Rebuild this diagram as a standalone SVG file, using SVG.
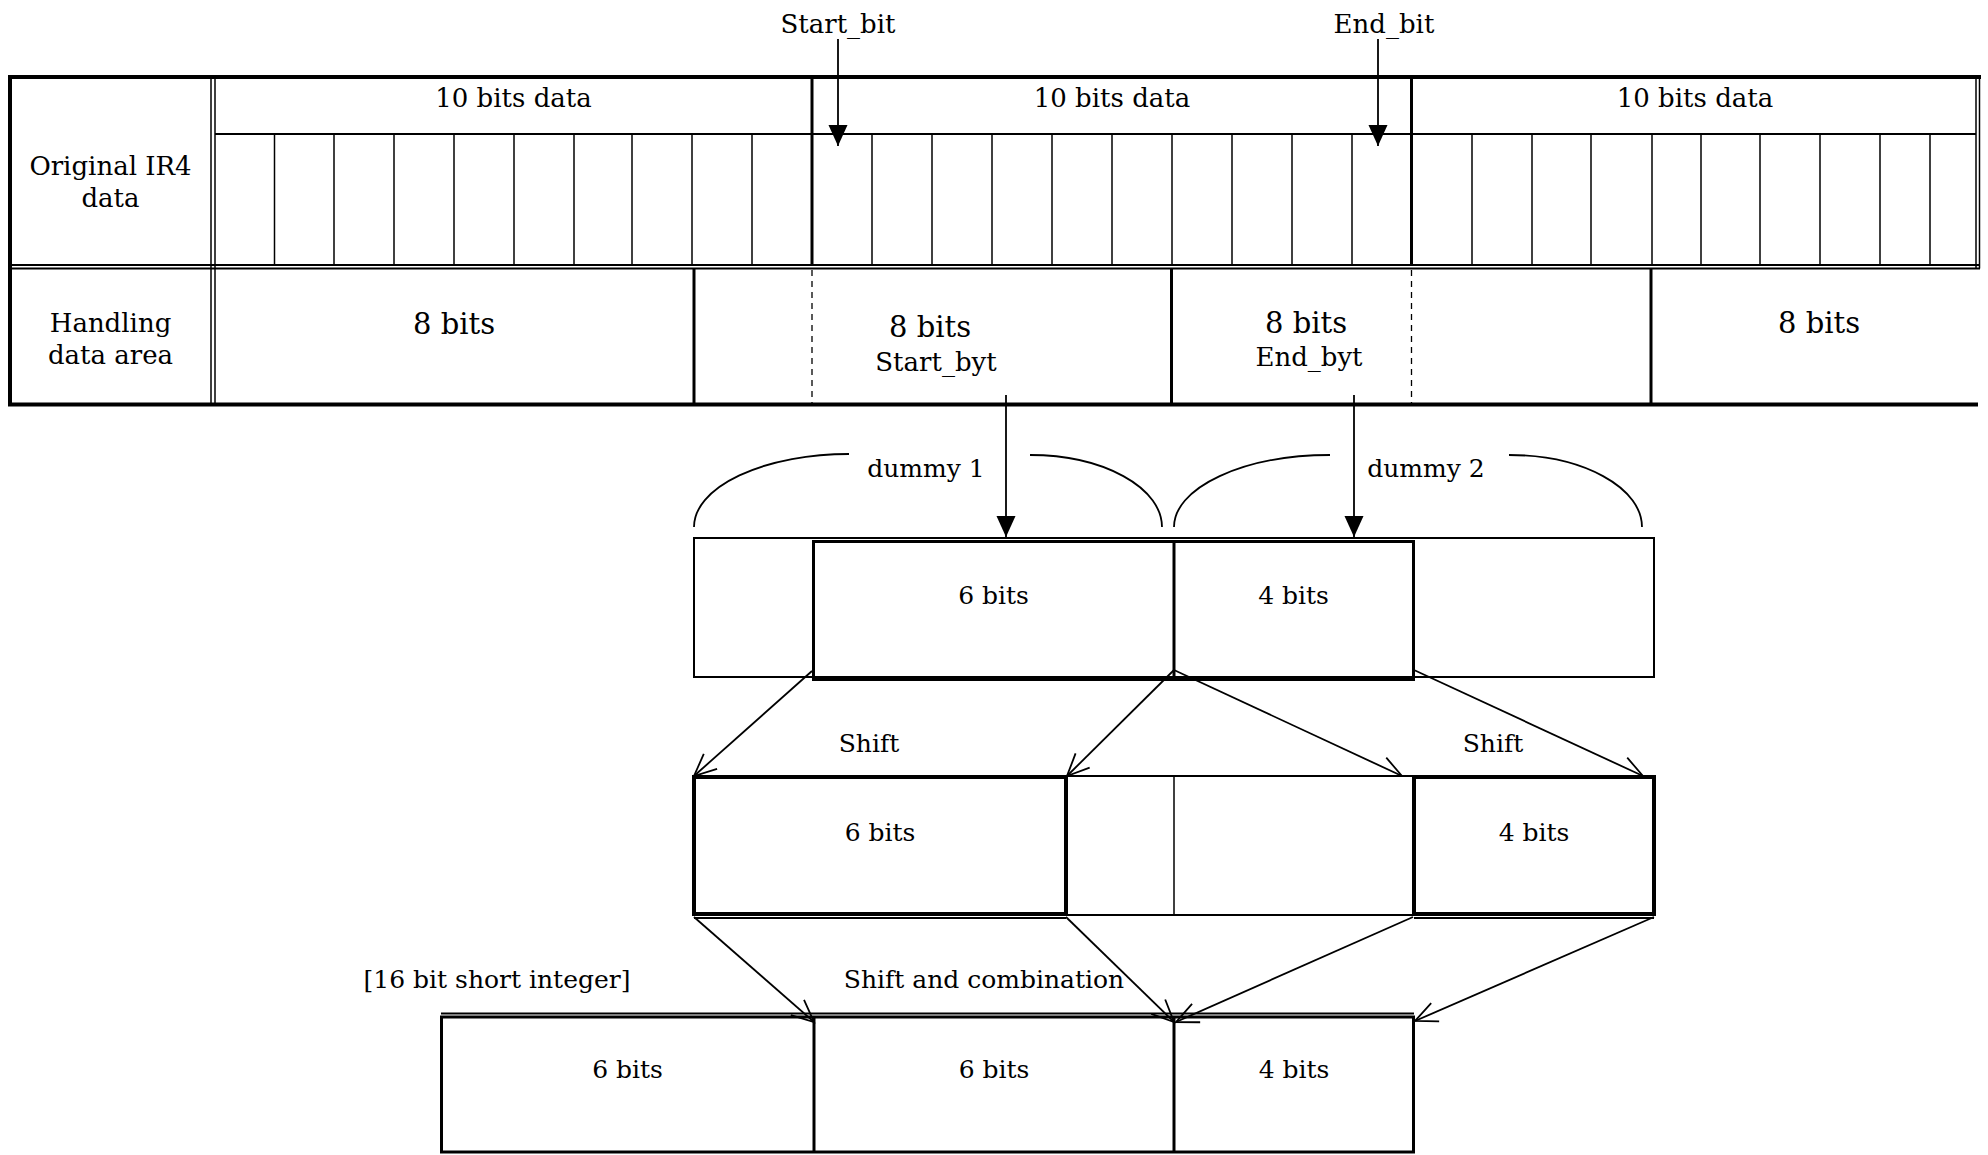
<svg xmlns="http://www.w3.org/2000/svg" width="1988" height="1155" viewBox="0 0 1988 1155">
<style>
  .bg{fill:#ffffff}
  .k4{stroke:#000;stroke-width:4;fill:none}
  .k3{stroke:#000;stroke-width:3;fill:none}
  .k2{stroke:#000;stroke-width:2;fill:none}
  .k15{stroke:#000;stroke-width:1.5;fill:none}
  .dash{stroke:#000;stroke-width:1.3;fill:none;stroke-dasharray:6 5}
  .arc{stroke:#000;stroke-width:1.8;fill:none}
  .arrF{stroke:#000;stroke-width:1.8;fill:none;marker-end:url(#solid)}
  .arrO{stroke:#000;stroke-width:1.8;fill:none;marker-end:url(#open)}
  text{font-family:"DejaVu Serif","Liberation Serif",serif;fill:#000;text-anchor:middle}
  .f26{font-size:26px}
  .f25{font-size:25px}
  .f29{font-size:29px}
</style>
<defs>
  <marker id="solid" markerUnits="userSpaceOnUse" markerWidth="1" markerHeight="1" refX="0" refY="0" orient="auto" overflow="visible">
    <path d="M0,0 L-21,-9.5 L-21,9.5 Z" fill="#000"/>
  </marker>
  <marker id="open" markerUnits="userSpaceOnUse" markerWidth="1" markerHeight="1" refX="0" refY="0" orient="auto" overflow="visible">
    <path d="M-22,-10 L0,0 L-22,10" fill="none" stroke="#000" stroke-width="1.8"/>
  </marker>
</defs>
<rect class="bg" x="0" y="0" width="1988" height="1155"/>

<g id="label-start-bit"><text class="f26" x="838" y="33">Start_bit</text></g>
<g id="label-end-bit"><text class="f26" x="1384" y="33">End_bit</text></g>

<g id="table-ir4">
  <line class="k4" x1="8" y1="77" x2="1981" y2="77"/>
  <line class="k4" x1="10" y1="75" x2="10" y2="406"/>
  <line class="k15" x1="211" y1="77" x2="211" y2="404"/>
  <line class="k15" x1="215" y1="77" x2="215" y2="404"/>
  <line class="k2" x1="10" y1="265" x2="1980" y2="265"/>
  <line class="k2" x1="10" y1="268.5" x2="1980" y2="268.5"/>
  <line class="k4" x1="8" y1="404.5" x2="1978" y2="404.5"/>
  <line class="k15" x1="1976" y1="77" x2="1976" y2="268.5"/>
  <line class="k15" x1="1979.5" y1="77" x2="1979.5" y2="268.5"/>
  <line class="k2" x1="215" y1="134" x2="1976" y2="134"/>
  <line class="k3" x1="812" y1="77" x2="812" y2="266"/>
  <line class="k3" x1="1411.5" y1="77" x2="1411.5" y2="266"/>
  <g class="k15">
    <line x1="274.5" y1="134" x2="274.5" y2="265"/>
    <line x1="334" y1="134" x2="334" y2="265"/>
    <line x1="394" y1="134" x2="394" y2="265"/>
    <line x1="454" y1="134" x2="454" y2="265"/>
    <line x1="514" y1="134" x2="514" y2="265"/>
    <line x1="574" y1="134" x2="574" y2="265"/>
    <line x1="632" y1="134" x2="632" y2="265"/>
    <line x1="692" y1="134" x2="692" y2="265"/>
    <line x1="752" y1="134" x2="752" y2="265"/>
    <line x1="872" y1="134" x2="872" y2="265"/>
    <line x1="932" y1="134" x2="932" y2="265"/>
    <line x1="992" y1="134" x2="992" y2="265"/>
    <line x1="1052" y1="134" x2="1052" y2="265"/>
    <line x1="1112" y1="134" x2="1112" y2="265"/>
    <line x1="1172" y1="134" x2="1172" y2="265"/>
    <line x1="1232" y1="134" x2="1232" y2="265"/>
    <line x1="1292" y1="134" x2="1292" y2="265"/>
    <line x1="1352" y1="134" x2="1352" y2="265"/>
    <line x1="1472" y1="134" x2="1472" y2="265"/>
    <line x1="1532" y1="134" x2="1532" y2="265"/>
    <line x1="1591" y1="134" x2="1591" y2="265"/>
    <line x1="1652" y1="134" x2="1652" y2="265"/>
    <line x1="1701" y1="134" x2="1701" y2="265"/>
    <line x1="1760" y1="134" x2="1760" y2="265"/>
    <line x1="1820" y1="134" x2="1820" y2="265"/>
    <line x1="1880" y1="134" x2="1880" y2="265"/>
    <line x1="1930" y1="134" x2="1930" y2="265"/>
  </g>
  <line class="k3" x1="694" y1="268" x2="694" y2="404"/>
  <line class="k3" x1="1171.5" y1="268" x2="1171.5" y2="404"/>
  <line class="k3" x1="1651" y1="268" x2="1651" y2="404"/>
  <line class="dash" x1="812" y1="270" x2="812" y2="403"/>
  <line class="dash" x1="1411.5" y1="270" x2="1411.5" y2="403"/>
  <text class="f26" x="110.5" y="175">Original IR4</text>
  <text class="f26" x="110.5" y="207">data</text>
  <text class="f26" x="110.5" y="331.5">Handling</text>
  <text class="f26" x="110.5" y="363.5">data area</text>
  <text class="f26" x="513.5" y="106.5">10 bits data</text>
  <text class="f26" x="1112" y="106.5">10 bits data</text>
  <text class="f26" x="1695" y="106.5">10 bits data</text>
  <text class="f29" x="454" y="334">8 bits</text>
  <text class="f29" x="930" y="337">8 bits</text>
  <text class="f26" x="936" y="371">Start_byt</text>
  <text class="f29" x="1306" y="333">8 bits</text>
  <text class="f26" x="1309" y="366">End_byt</text>
  <text class="f29" x="1819" y="333">8 bits</text>
</g>

<g id="dummy-braces">
  <path class="arc" d="M694,527 A155,73 0 0 1 849,454"/>
  <path class="arc" d="M1030,455 A132,72 0 0 1 1162,527"/>
  <path class="arc" d="M1174,527 A156,72 0 0 1 1330,455"/>
  <path class="arc" d="M1509,455 A133,72 0 0 1 1642,527"/>
  <text class="f25" x="926" y="477">dummy 1</text>
  <text class="f25" x="1426" y="477">dummy 2</text>
</g>

<g id="row-extract">
  <rect class="k2" x="694" y="538" width="960" height="139"/>
  <rect class="k3" x="813.5" y="541.5" width="600" height="138"/>
  <line class="k3" x1="1174" y1="541.5" x2="1174" y2="679.5"/>
  <text class="f25" x="993.5" y="604">6 bits</text>
  <text class="f25" x="1293.5" y="604">4 bits</text>
</g>

<g id="row-shift">
  <rect class="k2" x="1066" y="776" width="348" height="139"/>
  <line class="k15" x1="1174" y1="776" x2="1174" y2="915"/>
  <rect class="k4" x="694" y="777" width="372" height="137"/>
  <rect class="k4" x="1414" y="777" width="240" height="137"/>
  <line class="k2" x1="694" y1="918" x2="1066" y2="918"/>
  <line class="k2" x1="1414" y1="918" x2="1654" y2="918"/>
  <text class="f25" x="880" y="841">6 bits</text>
  <text class="f25" x="1534" y="841">4 bits</text>
</g>

<g id="row-result">
  <line class="k2" x1="441" y1="1013.5" x2="1414" y2="1013.5"/>
  <rect class="k3" x="441.5" y="1017" width="972" height="135"/>
  <line class="k3" x1="814" y1="1017" x2="814" y2="1152"/>
  <line class="k3" x1="1174" y1="1017" x2="1174" y2="1152"/>
  <text class="f25" x="627.5" y="1078">6 bits</text>
  <text class="f25" x="994" y="1078">6 bits</text>
  <text class="f25" x="1294" y="1078">4 bits</text>
</g>

<g id="labels">
  <text class="f25" x="869" y="752">Shift</text>
  <text class="f25" x="1493" y="752">Shift</text>
  <text class="f25" x="984" y="988">Shift and combination</text>
  <text class="f25" x="497" y="988">[16 bit short integer]</text>
</g>

<g id="connectors">
  <line class="arrF" x1="838" y1="39" x2="838" y2="146"/>
  <line class="arrF" x1="1378" y1="39" x2="1378" y2="146"/>
  <line class="arrF" x1="1006" y1="395" x2="1006" y2="537"/>
  <line class="arrF" x1="1354" y1="395" x2="1354" y2="537"/>
  <line class="arrO" x1="812" y1="671" x2="694" y2="776"/>
  <line class="arrO" x1="1174" y1="670" x2="1067" y2="776"/>
  <line class="arrO" x1="1174" y1="670" x2="1402" y2="776"/>
  <line class="arrO" x1="1414" y1="670" x2="1643" y2="776"/>
  <line class="arrO" x1="694" y1="917" x2="814" y2="1022"/>
  <line class="arrO" x1="1066" y1="917" x2="1174" y2="1022"/>
  <line class="arrO" x1="1413" y1="917" x2="1176" y2="1022"/>
  <line class="arrO" x1="1654" y1="917" x2="1415" y2="1021"/>
</g>
</svg>
